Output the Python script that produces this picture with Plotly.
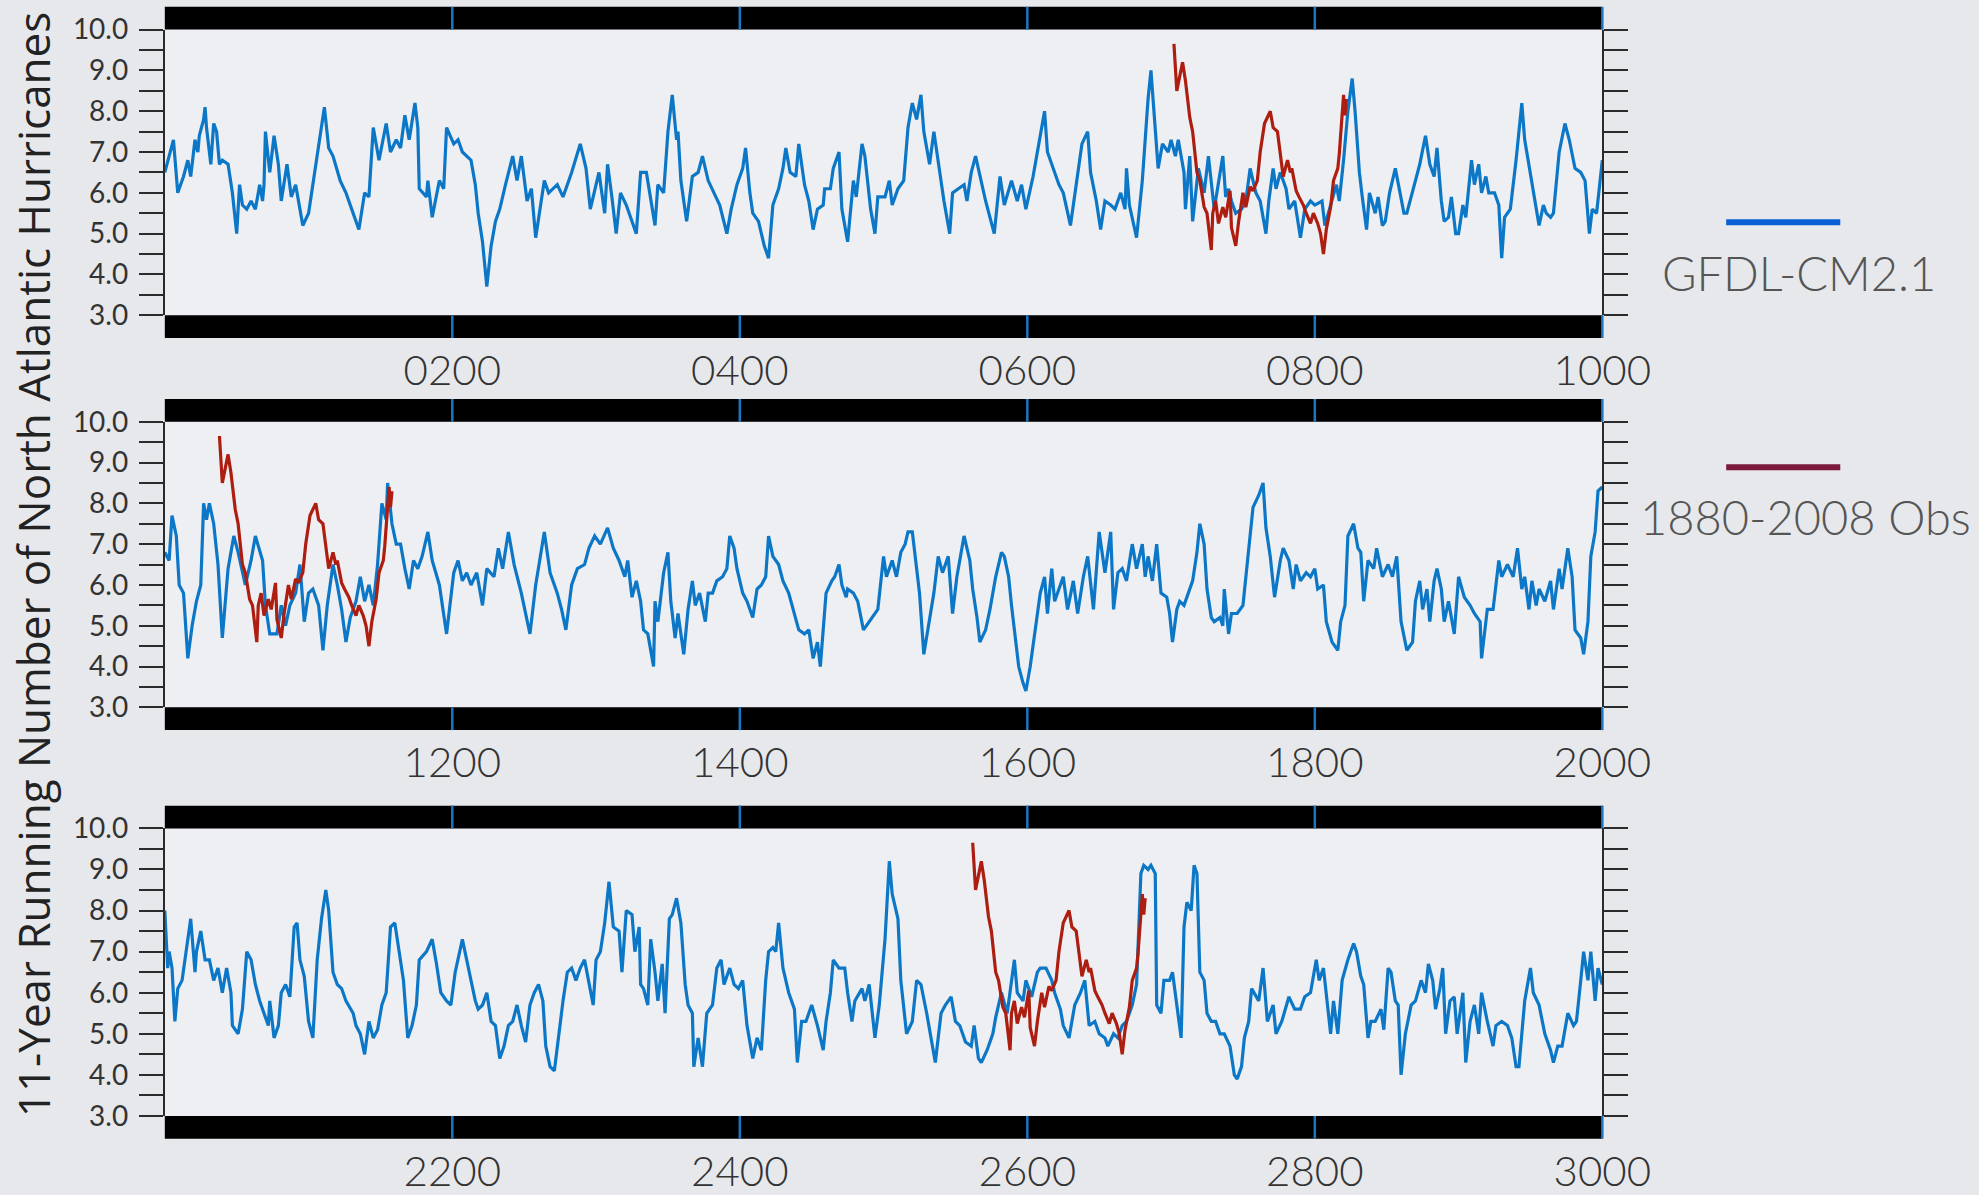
import plotly.graph_objects as go

# 11-year running number of North Atlantic hurricanes, GFDL-CM2.1 control run.
# Each segment covers 1000 model years; years are given as offsets within the segment.
p1_years = [
    0, 6, 9, 13, 16, 18, 21, 23, 24, 27,
    28, 29, 32, 34, 36, 38, 40, 44, 47, 50,
    52, 54, 57, 60, 63, 66, 68, 69, 70, 73,
    76, 79, 81, 85, 88, 91, 94, 96, 100, 103,
    106, 109, 111, 114, 117, 122, 126, 130, 135, 139,
    142, 145, 149, 154, 157, 161, 164, 167, 170, 174,
    176, 177, 182, 183, 186, 191, 194, 196, 201, 204,
    207, 213, 216, 218, 221, 224, 227, 230, 233, 237,
    242, 245, 248, 252, 255, 258, 264, 267, 273, 277,
    283, 289, 293, 296, 302, 306, 308, 311, 314, 317,
    321, 328, 331, 335, 338, 341, 343, 347, 350, 353,
    356, 357, 359, 363, 367, 371, 374, 378, 382, 386,
    391, 394, 398, 402, 404, 407, 409, 413, 417, 420,
    423, 427, 430, 432, 435, 439, 441, 445, 448, 451,
    454, 458, 459, 463, 465, 469, 471, 475, 479, 481,
    485, 487, 491, 494, 496, 501, 504, 506, 510, 514,
    517, 520, 523, 526, 528, 532, 535, 538, 542, 546,
    548, 552, 556, 558, 561, 564, 567, 571, 577, 581,
    584, 587, 589, 593, 596, 599, 604, 608, 612, 614,
    618, 622, 625, 630, 634, 638, 642, 644, 648, 651,
    654, 658, 661, 665, 668, 669, 671, 676, 680, 684,
    686, 689, 691, 694, 698, 700, 703, 705, 709, 710,
    713, 715, 719, 723, 726, 730, 733, 736, 738, 740,
    742, 745, 749, 752, 755, 759, 762, 766, 768, 771,
    773, 776, 780, 782, 786, 790, 793, 797, 800, 805,
    807, 811, 815, 817, 820, 823, 826, 828, 831, 833,
    836, 838, 842, 844, 847, 849, 852, 856, 859, 862,
    864, 868, 870, 873, 877, 880, 883, 885, 888, 890,
    893, 895, 898, 900, 903, 905, 909, 911, 914, 916,
    919, 921, 925, 928, 930, 932, 936, 940, 944, 946,
    950, 954, 956, 959, 961, 964, 966, 970, 974, 977,
    981, 985, 988, 991, 993, 996, 1000,
]
p1_values = [
    6.5, 7.3, 6.0, 6.4, 6.8, 6.4, 7.3, 7.0, 7.4, 7.8,
    8.1, 7.6, 6.7, 7.7, 7.5, 6.7, 6.8, 6.7, 6.0, 5.0,
    6.2, 5.7, 5.6, 5.8, 5.6, 6.2, 5.8, 6.2, 7.5, 6.5,
    7.4, 6.7, 5.8, 6.7, 5.9, 6.2, 5.6, 5.2, 5.5, 6.2,
    7.0, 7.6, 8.1, 7.1, 6.9, 6.3, 6.0, 5.6, 5.1, 6.0,
    5.9, 7.6, 6.8, 7.7, 7.0, 7.3, 7.1, 7.9, 7.3, 8.2,
    7.6, 6.1, 5.9, 6.3, 5.4, 6.3, 6.1, 7.6, 7.2, 7.3,
    7.0, 6.8, 6.2, 5.5, 4.8, 3.7, 4.7, 5.3, 5.6, 6.2,
    6.9, 6.3, 6.9, 5.8, 6.1, 4.9, 6.3, 6.0, 6.2, 5.9,
    6.5, 7.2, 6.6, 5.6, 6.5, 5.5, 6.7, 5.9, 5.0, 6.0,
    5.7, 5.0, 6.5, 6.5, 5.9, 5.2, 6.2, 6.0, 7.5, 8.4,
    7.3, 7.5, 6.3, 5.3, 6.4, 6.5, 6.9, 6.3, 6.0, 5.7,
    5.0, 5.6, 6.2, 6.6, 7.1, 6.0, 5.5, 5.3, 4.7, 4.4,
    5.7, 6.1, 6.6, 7.1, 6.5, 6.4, 7.2, 6.2, 5.8, 5.1,
    5.6, 5.7, 6.1, 6.1, 6.6, 7.0, 5.6, 4.8, 6.3, 5.9,
    7.2, 6.9, 5.6, 5.0, 5.9, 5.9, 6.3, 5.7, 6.1, 6.3,
    7.6, 8.2, 7.8, 8.4, 7.5, 6.7, 7.5, 6.8, 5.8, 5.0,
    6.0, 6.1, 6.2, 5.8, 6.5, 6.9, 6.4, 5.8, 5.0, 6.4,
    5.7, 6.1, 6.3, 5.8, 6.2, 5.6, 6.4, 7.2, 8.0, 7.0,
    6.6, 6.2, 6.0, 5.2, 6.2, 7.2, 7.5, 6.5, 5.8, 5.1,
    5.8, 5.7, 5.6, 6.0, 5.6, 6.6, 5.7, 4.9, 6.3, 8.3,
    9.0, 7.6, 6.6, 7.2, 7.0, 7.3, 6.9, 7.3, 6.5, 5.6,
    6.9, 5.3, 6.6, 6.0, 6.9, 5.6, 6.2, 6.9, 5.9, 6.1,
    5.8, 5.5, 5.6, 5.8, 6.6, 6.0, 5.8, 5.0, 5.8, 6.6,
    6.1, 6.5, 6.1, 5.6, 5.8, 4.9, 5.6, 5.8, 5.7, 5.8,
    5.2, 5.7, 6.2, 5.8, 6.8, 8.0, 8.8, 8.0, 6.5, 5.9,
    5.1, 6.0, 5.5, 5.9, 5.2, 5.3, 6.0, 6.6, 6.0, 5.5,
    5.5, 6.0, 6.3, 6.7, 7.4, 6.7, 6.4, 7.1, 5.8, 5.3,
    5.4, 5.9, 5.0, 5.0, 5.7, 5.4, 6.8, 6.2, 6.7, 6.0,
    6.4, 6.0, 6.0, 5.7, 4.4, 5.4, 5.6, 6.8, 8.2, 7.3,
    6.5, 5.6, 5.2, 5.7, 5.5, 5.4, 5.5, 7.0, 7.7, 7.3,
    6.6, 6.5, 6.3, 5.0, 5.6, 5.5, 6.8,
]

p2_years = [
    0, 3, 5, 8, 10, 13, 16, 19, 22, 25,
    27, 29, 31, 34, 37, 40, 44, 48, 51, 56,
    60, 63, 68, 70, 73, 78, 81, 84, 87, 91,
    94, 97, 100, 103, 107, 110, 113, 117, 120, 123,
    126, 129, 133, 136, 139, 142, 145, 148, 151, 154,
    155, 158, 161, 164, 167, 170, 173, 176, 179, 183,
    186, 191, 196, 201, 204, 207, 210, 213, 217, 221,
    224, 229, 232, 235, 239, 243, 248, 254, 258, 264,
    268, 273, 276, 279, 283, 287, 292, 295, 299, 303,
    308, 312, 316, 320, 322, 325, 328, 331, 333, 336,
    340, 341, 343, 347, 350, 352, 355, 357, 361, 364,
    367, 369, 372, 376, 378, 381, 384, 388, 391, 393,
    396, 398, 402, 405, 409, 412, 415, 418, 420, 423,
    427, 430, 434, 438, 441, 445, 448, 451, 454, 456,
    460, 464, 466, 469, 471, 474, 475, 479, 482, 486,
    490, 494, 496, 500, 502, 506, 509, 512, 515, 517,
    520, 522, 525, 528, 532, 535, 538, 541, 545, 548,
    551, 553, 556, 560, 562, 565, 567, 571, 574, 578,
    582, 584, 587, 589, 592, 594, 597, 599, 602, 604,
    607, 609, 612, 614, 617, 619, 622, 625, 628, 632,
    635, 639, 642, 646, 650, 654, 658, 660, 663, 666,
    669, 673, 676, 680, 682, 684, 687, 690, 693, 697,
    699, 701, 704, 706, 709, 713, 715, 718, 720, 723,
    725, 728, 730, 734, 736, 737, 740, 742, 746, 750,
    752, 755, 757, 761, 764, 766, 769, 772, 776, 778,
    782, 785, 787, 790, 794, 797, 800, 802, 806, 808,
    812, 816, 818, 821, 823, 827, 830, 832, 834, 837,
    841, 843, 847, 851, 854, 857, 860, 864, 868, 870,
    873, 875, 878, 880, 883, 885, 888, 890, 893, 897,
    900, 904, 908, 911, 915, 916, 920, 924, 928, 930,
    934, 938, 941, 944, 946, 949, 951, 954, 956, 960,
    964, 966, 970, 972, 976, 979, 981, 985, 987, 990,
    992, 995, 997, 1000,
]
p2_values = [
    6.8, 6.6, 7.7, 7.2, 6.0, 5.8, 4.2, 5.0, 5.6, 6.0,
    8.0, 7.6, 8.0, 7.5, 6.5, 4.7, 6.4, 7.2, 6.8, 6.0,
    6.6, 7.2, 6.6, 5.5, 4.8, 4.8, 5.5, 5.0, 5.5, 5.8,
    6.5, 5.1, 5.8, 5.9, 5.5, 4.4, 5.5, 6.5, 6.0, 5.4,
    4.6, 5.2, 5.6, 6.2, 5.6, 6.0, 5.5, 6.5, 8.0, 7.6,
    8.5, 7.5, 7.0, 7.0, 6.4, 5.9, 6.6, 6.4, 6.7, 7.3,
    6.6, 6.0, 4.8, 6.3, 6.6, 6.1, 6.3, 6.0, 6.3, 5.5,
    6.4, 6.2, 6.9, 6.4, 7.3, 6.5, 5.8, 4.8, 6.0, 7.3,
    6.3, 5.8, 5.4, 4.9, 6.0, 6.4, 6.5, 6.9, 7.2, 7.0,
    7.4, 6.9, 6.6, 6.2, 6.6, 5.7, 6.1, 5.6, 4.9, 4.8,
    4.0, 5.6, 5.1, 6.3, 6.8, 5.6, 4.7, 5.3, 4.3, 5.4,
    6.1, 5.5, 5.8, 5.1, 5.8, 5.8, 6.1, 6.2, 6.4, 7.2,
    6.9, 6.4, 5.8, 5.6, 5.2, 5.9, 6.0, 6.2, 7.2, 6.7,
    6.5, 6.1, 5.8, 5.3, 4.9, 4.8, 4.9, 4.2, 4.6, 4.0,
    5.8, 6.1, 6.2, 6.5, 6.0, 5.7, 5.9, 5.8, 5.6, 4.9,
    5.1, 5.3, 5.4, 6.7, 6.2, 6.6, 6.2, 6.8, 7.0, 7.3,
    7.3, 6.7, 5.8, 4.3, 5.1, 5.8, 6.7, 6.3, 6.7, 5.3,
    6.2, 6.6, 7.2, 6.6, 5.9, 5.2, 4.6, 4.9, 5.4, 6.2,
    6.8, 6.7, 6.2, 5.5, 4.6, 4.0, 3.6, 3.4, 4.0, 4.5,
    5.2, 5.8, 6.2, 5.3, 6.4, 5.6, 5.9, 6.2, 5.4, 6.1,
    5.3, 6.2, 6.7, 5.4, 7.3, 6.3, 7.3, 5.4, 6.3, 6.4,
    6.1, 7.0, 6.4, 7.0, 6.2, 6.7, 6.1, 7.0, 5.8, 5.7,
    5.3, 4.6, 5.4, 5.6, 5.5, 5.9, 6.1, 6.8, 7.5, 7.0,
    5.9, 5.2, 5.1, 5.2, 5.0, 5.9, 4.8, 5.3, 5.3, 5.5,
    6.2, 7.1, 7.9, 8.2, 8.5, 7.4, 6.7, 5.7, 6.6, 6.9,
    6.6, 5.9, 6.5, 6.1, 6.3, 6.2, 6.4, 5.9, 6.0, 5.1,
    4.6, 4.4, 5.1, 5.5, 7.2, 7.5, 6.9, 6.8, 5.6, 6.6,
    6.4, 6.9, 6.2, 6.5, 6.2, 6.7, 5.1, 4.4, 4.6, 5.6,
    6.1, 5.4, 5.9, 5.1, 6.1, 6.4, 5.9, 5.1, 5.6, 4.8,
    6.2, 5.7, 5.5, 5.3, 5.1, 4.2, 5.4, 5.4, 6.6, 6.2,
    6.5, 6.2, 6.9, 5.9, 6.2, 5.4, 6.1, 5.5, 5.9, 5.6,
    6.1, 5.4, 6.4, 5.9, 6.9, 6.2, 4.9, 4.7, 4.3, 5.1,
    6.7, 7.3, 8.3, 8.4,
]

p3_years = [
    0, 2, 3, 5, 7, 9, 12, 15, 18, 21,
    22, 25, 28, 31, 34, 37, 40, 43, 46, 47,
    51, 54, 57, 60, 63, 66, 69, 72, 73, 76,
    79, 81, 84, 87, 90, 92, 94, 97, 100, 103,
    106, 109, 112, 114, 117, 120, 123, 126, 131, 133,
    136, 139, 142, 145, 148, 151, 154, 157, 160, 163,
    166, 169, 172, 175, 177, 182, 186, 189, 192, 196,
    199, 202, 207, 210, 213, 216, 218, 221, 224, 227,
    230, 233, 236, 239, 242, 245, 248, 251, 254, 257,
    260, 263, 265, 268, 271, 274, 277, 280, 283, 286,
    289, 292, 295, 298, 300, 303, 306, 309, 312, 316,
    318, 321, 325, 327, 330, 331, 333, 336, 338, 341,
    343, 346, 348, 351, 353, 356, 359, 362, 364, 367,
    368, 371, 374, 377, 381, 384, 387, 389, 393, 396,
    399, 402, 405, 409, 412, 415, 418, 420, 423, 425,
    427, 430, 434, 438, 440, 443, 446, 450, 454, 458,
    460, 463, 465, 469, 473, 475, 478, 480, 485, 487,
    490, 494, 497, 501, 504, 506, 510, 512, 516, 520,
    523, 526, 530, 533, 536, 540, 543, 547, 550, 553,
    557, 561, 563, 566, 568, 572, 576, 578, 582, 586,
    589, 591, 593, 597, 599, 603, 607, 609, 613, 617,
    619, 623, 625, 629, 633, 637, 640, 643, 647, 650,
    654, 656, 660, 663, 666, 669, 673, 676, 679, 681,
    684, 686, 689, 690, 693, 695, 699, 701, 704, 707,
    709, 711, 714, 716, 718, 720, 723, 725, 728, 731,
    734, 737, 741, 744, 746, 749, 751, 754, 756, 759,
    761, 764, 766, 767, 771, 773, 777, 780, 782, 786,
    790, 793, 797, 801, 803, 806, 808, 811, 813, 816,
    819, 823, 827, 829, 832, 834, 837, 839, 842, 846,
    848, 851, 853, 856, 858, 860, 863, 867, 870, 874,
    877, 879, 882, 884, 887, 889, 891, 894, 897, 899,
    903, 905, 908, 911, 914, 916, 920, 924, 926, 930,
    934, 937, 940, 942, 946, 950, 952, 956, 960, 964,
    966, 969, 972, 976, 980, 982, 985, 987, 990, 992,
    995, 997, 1000,
]
p3_values = [
    8.0, 6.6, 7.0, 6.6, 5.3, 6.1, 6.3, 7.0, 7.8, 6.5,
    7.0, 7.5, 6.8, 6.8, 6.3, 6.6, 6.0, 6.6, 6.0, 5.2,
    5.0, 5.6, 7.0, 6.8, 6.2, 5.8, 5.5, 5.2, 5.8, 4.9,
    5.2, 6.0, 6.2, 5.9, 7.6, 7.7, 6.8, 6.4, 5.3, 4.9,
    6.8, 7.8, 8.5, 8.0, 6.5, 6.2, 6.1, 5.8, 5.5, 5.2,
    5.0, 4.5, 5.3, 4.9, 5.1, 5.7, 6.0, 7.6, 7.7, 7.0,
    6.3, 4.9, 5.2, 5.7, 6.8, 7.0, 7.3, 6.7, 6.0, 5.8,
    5.7, 6.5, 7.3, 6.8, 6.3, 5.8, 5.6, 5.7, 6.0, 5.3,
    5.2, 4.4, 4.7, 5.2, 5.3, 5.7, 5.2, 4.8, 5.7, 6.0,
    6.2, 5.8, 4.7, 4.2, 4.1, 5.0, 5.8, 6.5, 6.6, 6.3,
    6.6, 6.8, 6.2, 5.7, 6.8, 7.0, 7.7, 8.7, 7.6, 7.5,
    6.5, 8.0, 7.9, 7.0, 7.6, 6.2, 6.1, 5.7, 7.3, 6.5,
    5.8, 6.7, 5.5, 7.8, 7.9, 8.3, 7.7, 6.2, 5.7, 5.5,
    4.2, 4.9, 4.2, 5.5, 5.7, 6.6, 6.8, 6.2, 6.6, 6.2,
    6.1, 6.3, 5.2, 4.4, 4.9, 4.6, 6.3, 7.0, 7.1, 7.0,
    7.7, 6.6, 6.0, 5.6, 4.3, 5.3, 5.3, 5.7, 5.2, 4.6,
    5.3, 6.0, 6.8, 6.6, 6.6, 6.0, 5.3, 5.8, 6.1, 5.8,
    6.2, 4.9, 5.7, 7.3, 9.2, 8.4, 7.8, 6.3, 5.0, 5.3,
    6.3, 6.2, 5.5, 4.9, 4.3, 5.5, 5.7, 5.9, 5.3, 5.2,
    4.8, 4.7, 5.2, 4.4, 4.3, 4.6, 5.0, 5.4, 6.0, 5.5,
    6.3, 6.8, 6.0, 5.8, 6.3, 5.9, 6.5, 6.6, 6.6, 6.3,
    6.0, 5.6, 5.2, 4.9, 5.7, 6.0, 6.3, 5.2, 5.3, 5.0,
    4.9, 4.7, 5.0, 4.9, 5.2, 5.3, 5.7, 6.2, 8.9, 9.1,
    9.0, 9.1, 8.9, 5.7, 5.5, 6.3, 6.3, 6.5, 5.7, 4.9,
    7.6, 8.2, 8.0, 9.1, 8.9, 6.5, 6.3, 5.5, 5.3, 5.3,
    5.0, 5.0, 4.7, 4.0, 3.9, 4.2, 4.9, 5.3, 6.1, 5.9,
    5.8, 6.6, 5.7, 5.3, 5.7, 5.0, 5.3, 5.7, 5.9, 5.6,
    5.6, 5.9, 6.0, 6.8, 6.3, 6.6, 6.0, 5.0, 5.8, 5.0,
    6.3, 6.8, 7.2, 7.0, 6.4, 6.2, 4.9, 5.3, 5.3, 5.6,
    5.1, 6.6, 6.5, 5.8, 5.7, 4.0, 5.0, 5.7, 5.8, 6.3,
    6.0, 6.7, 6.3, 5.6, 6.1, 6.6, 5.0, 5.8, 5.9, 5.0,
    6.0, 4.3, 5.3, 5.7, 5.0, 6.0, 5.3, 4.7, 5.2, 5.3,
    5.2, 4.9, 4.2, 4.2, 5.8, 6.6, 6.0, 5.7, 5.0, 4.6,
    4.3, 4.7, 4.7, 5.5, 5.2, 5.3, 6.3, 7.0, 6.3, 7.0,
    5.8, 6.6, 6.2,
]

# Observed 11-year running number of hurricanes (1880-2008 record)
obs_years = [
    1885, 1887, 1889, 1891, 1893, 1896, 1898, 1899, 1901, 1903,
    1906, 1908, 1911, 1912, 1914, 1916, 1919, 1921, 1924, 1925,
    1928, 1930, 1933, 1935, 1938, 1940, 1943, 1945, 1948, 1952,
    1954, 1957, 1959, 1961, 1964, 1966, 1967, 1970, 1972, 1975,
    1977, 1980, 1982, 1985, 1987, 1989, 1991, 1994, 1996, 1999,
    2000, 2001, 2003, 2004, 2005,
]
obs_values = [
    9.65, 8.5, 8.85, 9.2, 8.75, 7.85, 7.5, 7.2, 6.5, 6.3,
    5.65, 5.5, 4.6, 5.5, 5.8, 5.25, 5.65, 5.4, 6.05, 5.15,
    4.7, 5.3, 6.0, 5.65, 6.15, 6.05, 6.3, 7.0, 7.7, 8.0,
    7.6, 7.5, 6.9, 6.4, 6.8, 6.5, 6.6, 6.05, 5.9, 5.7,
    5.5, 5.25, 5.5, 5.25, 5.0, 4.5, 5.1, 5.65, 6.3, 6.6,
    6.95, 7.45, 8.4, 7.9, 8.3,
]

# Model years at which the observed record is laid over each segment
obs_overlay_starts = [702, 1038, 2562]

segment_starts = [0, 1000, 2000]
segment_length = 1000
x_tick_values = [
    [200, 400, 600, 800, 1000],
    [1200, 1400, 1600, 1800, 2000],
    [2200, 2400, 2600, 2800, 3000],
]
x_tick_labels = [
    ["0200", "0400", "0600", "0800", "1000"],
    ["1200", "1400", "1600", "1800", "2000"],
    ["2200", "2400", "2600", "2800", "3000"],
]
y_tick_values = [3.0, 3.5, 4.0, 4.5, 5.0, 5.5, 6.0, 6.5, 7.0, 7.5, 8.0, 8.5, 9.0, 9.5, 10.0]
y_tick_labels = ["3.0", "", "4.0", "", "5.0", "", "6.0", "", "7.0", "", "8.0", "", "9.0", "", "10.0"]

series_years = [p1_years, p2_years, p3_years]
series_values = [p1_values, p2_values, p3_values]

# ---- page geometry (pixels) ----
W, H = 1979, 1195
PLOT_LEFT, PLOT_RIGHT = 169, 1643
PANEL_TOP_BOTTOM = [(12, 307), (417, 712), (837, 1134)]
BAR_PX = 23.5

MODEL_BLUE = "#0d77c7"
OBS_RED = "#ad1d10"
BAR_TICK_BLUE = "#1b76c4"
AXIS_DARK = "#2b2b2b"
FONT = "Lato"

fig = go.Figure()
shapes = []
layout_axes = {}

for i in range(3):
    suffix = "" if i == 0 else str(i + 1)
    base = segment_starts[i]
    top_px, bottom_px = PANEL_TOP_BOTTOM[i]
    panel_h = bottom_px - top_px
    bar = BAR_PX / panel_h

    fig.add_trace(go.Scatter(
        x=[base + y for y in series_years[i]],
        y=series_values[i],
        mode="lines",
        line=dict(color=MODEL_BLUE, width=3.2),
        name="GFDL-CM2.1",
        showlegend=False,
        xaxis="x" + suffix,
        yaxis="y" + suffix,
    ))
    start = obs_overlay_starts[i]
    fig.add_trace(go.Scatter(
        x=[yr - obs_years[0] + start for yr in obs_years],
        y=obs_values,
        mode="lines",
        line=dict(color=OBS_RED, width=3.2),
        name="1880-2008 Obs",
        showlegend=False,
        xaxis="x" + suffix,
        yaxis="y" + suffix,
    ))

    layout_axes["xaxis" + suffix] = dict(
        domain=[PLOT_LEFT / W, PLOT_RIGHT / W],
        range=[base, base + segment_length],
        anchor="y" + suffix,
        tickvals=x_tick_values[i],
        ticktext=x_tick_labels[i],
        ticks="",
        showgrid=False,
        zeroline=False,
        showline=False,
        tickfont=dict(family=FONT, size=42, color="#333333", weight=300),
        ticklabelstandoff=27,
    )
    layout_axes["yaxis" + suffix] = dict(
        domain=[1 - bottom_px / H, 1 - top_px / H],
        range=[3, 10],
        anchor="x" + suffix,
        tickvals=y_tick_values,
        ticktext=y_tick_labels,
        ticks="outside",
        ticklen=24,
        tickwidth=2,
        tickcolor=AXIS_DARK,
        showline=True,
        linewidth=2,
        linecolor=AXIS_DARK,
        mirror="ticks",
        showgrid=False,
        zeroline=False,
        tickfont=dict(family=FONT, size=28, color="#333333"),
        ticklabelstandoff=5,
    )

    xd = "x" + suffix + " domain"
    yd = "y" + suffix + " domain"
    # black bands above and below the panel
    for y0, y1 in [(1, 1 + bar), (-bar, 0)]:
        shapes.append(dict(type="rect", xref=xd, yref=yd, x0=0, x1=1, y0=y0, y1=y1,
                           fillcolor="black", line=dict(width=0), layer="above"))
    # blue tick marks through the bands
    for v in x_tick_values[i]:
        xf = (v - base) / segment_length
        for y0, y1 in [(1, 1 + bar), (-bar, 0)]:
            shapes.append(dict(type="line", xref=xd, yref=yd, x0=xf, x1=xf, y0=y0, y1=y1,
                               line=dict(color=BAR_TICK_BLUE, width=2.5), layer="above"))

# legend keys
shapes.append(dict(type="line", xref="paper", yref="paper",
                   x0=1770 / W, x1=1887 / W, y0=1 - 211 / H, y1=1 - 211 / H,
                   line=dict(color="#0b5fd6", width=6)))
shapes.append(dict(type="line", xref="paper", yref="paper",
                   x0=1770 / W, x1=1887 / W, y0=1 - 464 / H, y1=1 - 464 / H,
                   line=dict(color="#7c1a3e", width=6)))

annotations = [
    dict(text="11-Year Running Number of North Atlantic Hurricanes",
         xref="paper", yref="paper", x=34 / W, y=1 - 565 / H,
         xanchor="center", yanchor="middle", textangle=-90, showarrow=False,
         font=dict(family="Open Sans", size=44, color="#222222")),
    dict(text="GFDL-CM2.1", xref="paper", yref="paper", x=1845 / W, y=1 - 263 / H,
         xanchor="center", yanchor="middle", showarrow=False,
         font=dict(family=FONT, size=47, color="#555555", weight=300)),
    dict(text="1880-2008 Obs", xref="paper", yref="paper", x=1851 / W, y=1 - 515 / H,
         xanchor="center", yanchor="middle", showarrow=False,
         font=dict(family=FONT, size=47, color="#555555", weight=300)),
]

fig.update_layout(
    width=W, height=H, autosize=False,
    margin=dict(l=0, r=0, t=0, b=0),
    paper_bgcolor="#e6e8ec",
    plot_bgcolor="#eeeff2",
    shapes=shapes,
    annotations=annotations,
    showlegend=False,
    **layout_axes,
)

fig.write_html("out.html")
